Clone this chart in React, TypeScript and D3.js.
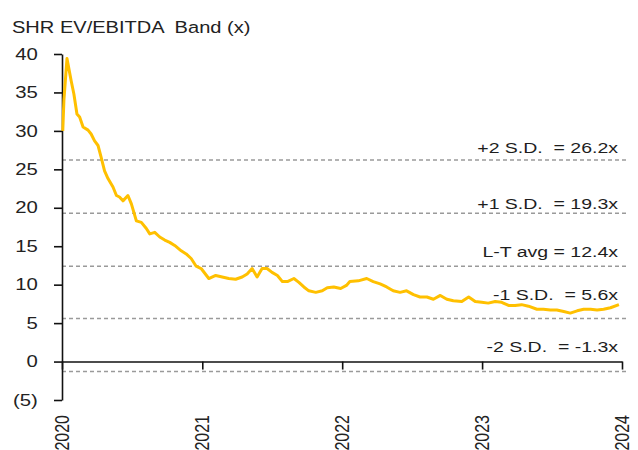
import { axisBottom, axisLeft, line, scaleLinear, scaleTime, select, timeParse } from "d3";
import { useEffect, useRef } from "react";

const W = 638;
const H = 450;

// SHR EV/EBITDA multiple (x)
const dates = [
  "2020-01-03", "2020-01-06", "2020-01-14", "2020-01-25", "2020-02-01", "2020-02-09",
  "2020-02-16", "2020-02-25", "2020-03-09", "2020-03-17", "2020-03-26", "2020-04-04",
  "2020-04-12", "2020-04-21", "2020-04-30", "2020-05-13", "2020-05-22", "2020-05-30",
  "2020-06-08", "2020-06-21", "2020-06-30", "2020-07-13", "2020-07-26", "2020-08-08",
  "2020-08-17", "2020-08-30", "2020-09-12", "2020-09-25", "2020-10-08", "2020-10-21",
  "2020-11-07", "2020-11-20", "2020-12-03", "2020-12-16", "2020-12-29", "2021-01-18",
  "2021-02-05", "2021-02-22", "2021-03-11", "2021-03-29", "2021-04-15", "2021-04-28",
  "2021-05-11", "2021-05-24", "2021-06-06", "2021-06-19", "2021-07-02", "2021-07-16",
  "2021-07-29", "2021-08-11", "2021-08-28", "2021-09-10", "2021-09-23", "2021-10-06",
  "2021-10-24", "2021-11-10", "2021-11-23", "2021-12-10", "2021-12-28", "2022-01-12",
  "2022-01-21", "2022-02-12", "2022-03-06", "2022-03-23", "2022-04-10", "2022-04-27",
  "2022-05-14", "2022-06-01", "2022-06-18", "2022-07-06", "2022-07-23", "2022-08-10",
  "2022-08-27", "2022-09-14", "2022-10-01", "2022-10-18", "2022-11-09", "2022-11-27",
  "2022-12-14", "2022-12-31", "2023-01-17", "2023-02-04", "2023-02-21", "2023-03-11",
  "2023-03-28", "2023-04-14", "2023-05-02", "2023-05-24", "2023-06-10", "2023-06-28",
  "2023-07-15", "2023-08-02", "2023-08-19", "2023-09-06", "2023-09-23", "2023-10-11",
  "2023-10-28", "2023-11-14", "2023-12-02", "2023-12-24",
];
const multiples = [
  30.0, 34.0, 39.4, 36.5, 34.8, 32.2,
  31.8, 30.5, 30.1, 29.6, 28.7, 28.1,
  26.6, 24.8, 23.8, 22.7, 21.6, 21.4,
  20.9, 21.6, 20.5, 18.3, 18.1, 17.3,
  16.6, 16.8, 16.2, 15.8, 15.5, 15.1,
  14.4, 14.0, 13.4, 12.4, 12.1, 10.8,
  11.2, 11.0, 10.8, 10.7, 11.0, 11.4,
  12.1, 11.0, 12.1, 12.1, 11.6, 11.2,
  10.4, 10.4, 10.8, 10.3, 9.7, 9.2,
  9.0, 9.2, 9.6, 9.7, 9.5, 9.9,
  10.4, 10.5, 10.8, 10.4, 10.1, 9.7,
  9.2, 9.0, 9.2, 8.7, 8.4, 8.4,
  8.1, 8.6, 8.1, 7.9, 7.8, 8.4,
  7.8, 7.7, 7.6, 7.8, 7.7, 7.3,
  7.3, 7.4, 7.2, 6.8, 6.8, 6.7,
  6.7, 6.5, 6.3, 6.6, 6.8, 6.8,
  6.7, 6.8, 7.0, 7.4,
];

const bandValues = [26.2, 19.3, 12.4, 5.6, -1.3];
const bandLabels = [
  "+2 S.D.  = 26.2x",
  "+1 S.D.  = 19.3x",
  "L-T avg = 12.4x",
  "-1 S.D.  = 5.6x",
  "-2 S.D.  = -1.3x",
];
const yTicks = [-5, 0, 5, 10, 15, 20, 25, 30, 35, 40];
const yearTicks = ["2020", "2021", "2022", "2023", "2024"];

const parse = timeParse("%Y-%m-%d");

export default function App() {
  const svgRef = useRef<SVGSVGElement>(null);

  useEffect(() => {
    const svg = select(svgRef.current);
    svg.selectAll("*").remove();

    const x = scaleTime()
      .domain([parse("2020-01-01"), parse("2024-01-01")])
      .range([62, 622]);
    const y = scaleLinear().domain([-5, 40]).range([400, 54]);
    const font = "'Liberation Sans', Arial, sans-serif";

    // title
    svg
      .append("text")
      .attr("transform", "translate(12,33) scale(1.18,1)")
      .attr("font-family", font)
      .attr("font-size", 17)
      .attr("fill", "#222")
      .attr("xml:space", "preserve")
      .text("SHR EV/EBITDA  Band (x)");

    // dashed band lines + labels (label nudges follow the original layout)
    const labelDy = [-7.5, -4.5, -9.5, -18, -19.5];
    const bands = svg.append("g");
    bandValues.forEach((v, i) => {
      bands
        .append("line")
        .attr("x1", 62)
        .attr("x2", 626)
        .attr("y1", y(v))
        .attr("y2", y(v))
        .attr("stroke", "#9a9a9a")
        .attr("stroke-width", 1.5)
        .attr("stroke-dasharray", "4,3");
      bands
        .append("text")
        .attr("transform", `translate(618,${y(v) + labelDy[i]}) scale(1.3,1)`)
        .attr("text-anchor", "end")
        .attr("font-family", font)
        .attr("font-size", 15)
        .attr("fill", "#1e1e1e")
        .attr("xml:space", "preserve")
        .text(bandLabels[i]);
    });

    // x axis at zero
    const xg = svg
      .append("g")
      .attr("transform", `translate(0,${y(0)})`)
      .call(
        axisBottom(x)
          .tickValues(yearTicks.map((t) => parse(`${t}-01-01`)))
          .tickSize(8)
          .tickSizeOuter(0)
          .tickFormat(() => "")
      );
    xg.select(".domain").attr("stroke", "#111").attr("stroke-width", 1.6);
    xg.selectAll(".tick line").attr("stroke", "#111").attr("stroke-width", 1.6);

    // rotated year labels
    svg
      .append("g")
      .selectAll("text")
      .data(yearTicks)
      .join("text")
      .attr(
        "transform",
        (d) => `translate(${x(parse(`${d}-01-01`))},415) scale(1.25,1) rotate(-90)`
      )
      .attr("text-anchor", "end")
      .attr("dy", "0.35em")
      .attr("font-family", font)
      .attr("font-size", 16)
      .attr("fill", "#222")
      .text((d) => d);

    // y axis
    const yg = svg
      .append("g")
      .attr("transform", "translate(62,0)")
      .call(
        axisLeft(y)
          .tickValues(yTicks)
          .tickSize(8)
          .tickSizeOuter(0)
          .tickPadding(11)
          .tickFormat((d) => (+d < 0 ? `(${-d})` : `${d}`))
      );
    yg.select(".domain").attr("stroke", "#111").attr("stroke-width", 1.6);
    yg.selectAll(".tick line").attr("stroke", "#111").attr("stroke-width", 1.6);
    yg.selectAll(".tick text")
      .attr("font-family", font)
      .attr("font-size", 16)
      .attr("fill", "#222")
      .attr("transform", "scale(1.27,1)");

    // multiple line
    const series = dates.map((d, i) => ({ date: parse(d), value: multiples[i] }));
    const lineGenerator = line<{ date: Date; value: number }>()
      .x((d) => x(d.date))
      .y((d) => y(d.value));
    svg
      .append("path")
      .datum(series)
      .attr("fill", "none")
      .attr("stroke", "#FFC000")
      .attr("stroke-width", 3)
      .attr("stroke-linejoin", "round")
      .attr("d", lineGenerator);
  }, []);

  return (
    <svg
      ref={svgRef}
      width={W}
      height={H}
      style={{ position: "absolute", left: 0, top: 0, background: "white" }}
    />
  );
}
